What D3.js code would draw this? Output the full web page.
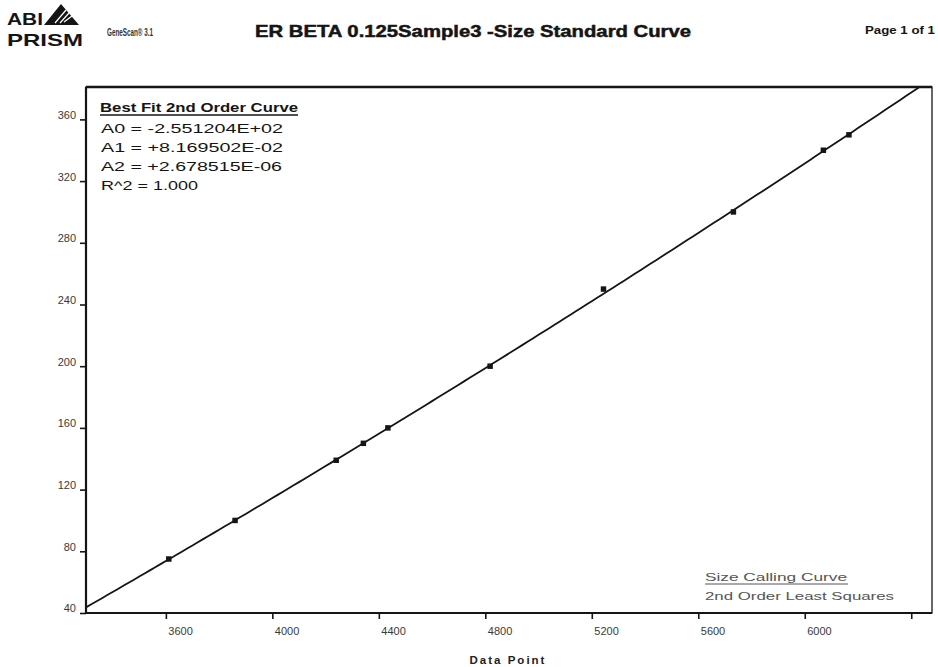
<!DOCTYPE html>
<html>
<head>
<meta charset="utf-8">
<script src="https://cdn.jsdelivr.net/npm/d3@7"></script>
<style>
  html, body { margin: 0; padding: 0; background: #fff; }
  svg { display: block; font-family: "Liberation Sans", Arial, Helvetica, sans-serif; }
</style>
</head>
<body>
<svg id="chart" width="938" height="667"></svg>
<script>
// Size standard fragments (bp) and the scan data point where each peak was found
const fragmentSizes = [75, 100, 139, 150, 160, 200, 250, 300, 340, 350];
const dataPoints   = [3611, 3860, 4240, 4342, 4434, 4818, 5244, 5732, 6070, 6166];

// Second-order least-squares fit: size = A0 + A1*x + A2*x^2
const fitCoefficients = [-2.551204E+02, 8.169502E-02, 2.678515E-06];
const fitLabels = ["A0 = -2.551204E+02", "A1 = +8.169502E-02", "A2 = +2.678515E-06", "R^2 = 1.000"];

// Axis ticks
const xTicks = [3600, 4000, 4400, 4800, 5200, 5600, 6000, 6400];
const xTickLabels = ["3600", "4000", "4400", "4800", "5200", "5600", "6000", ""];
const yTicks = [40, 80, 120, 160, 200, 240, 280, 320, 360];

const svg = d3.select("#chart");
const ink = "#151515";

const plot = { left: 86, right: 932, top: 87, bottom: 613 };

const x = d3.scaleLinear().domain([3300, 6478]).range([plot.left, plot.right]);
const y = d3.scaleLinear().domain([40, 381]).range([plot.bottom, plot.top]);

// ---- Header ----
const header = svg.append("g");
header.append("text").attr("x", 7).attr("y", 25)
  .attr("font-size", 16).attr("font-weight", "bold").attr("fill", ink)
  .attr("textLength", 36).attr("lengthAdjust", "spacingAndGlyphs").text("ABI");
header.append("path")
  .attr("d", "M44,25 L61,4 L79,25 Z").attr("fill", ink);
header.append("path")
  .attr("d", "M55,23 L66,10 M60,23 L69,13 M64,22 L72,16")
  .attr("stroke", "#fff").attr("stroke-width", 1.2).attr("fill", "none");
header.append("text").attr("x", 7).attr("y", 46)
  .attr("font-size", 17).attr("font-weight", "bold").attr("fill", ink)
  .attr("textLength", 76).attr("lengthAdjust", "spacingAndGlyphs").text("PRISM");
header.append("text").attr("x", 107).attr("y", 36)
  .attr("font-size", 10).attr("font-weight", "bold").attr("fill", "#333")
  .attr("textLength", 46).attr("lengthAdjust", "spacingAndGlyphs").text("GeneScan® 3.1");
header.append("text").attr("x", 255).attr("y", 37)
  .attr("font-size", 17).attr("font-weight", "bold").attr("fill", ink)
  .attr("stroke", ink).attr("stroke-width", 0.5)
  .attr("textLength", 436).attr("lengthAdjust", "spacingAndGlyphs")
  .text("ER BETA 0.125Sample3 -Size Standard Curve");
header.append("text").attr("x", 865).attr("y", 34)
  .attr("font-size", 10).attr("font-weight", "bold").attr("fill", ink)
  .attr("textLength", 70).attr("lengthAdjust", "spacingAndGlyphs").text("Page 1 of 1");

// ---- Plot frame ----
svg.append("rect")
  .attr("x", plot.left).attr("y", plot.top)
  .attr("width", plot.right - plot.left).attr("height", plot.bottom - plot.top)
  .attr("fill", "none").attr("stroke", ink).attr("stroke-width", 1.3);
svg.append("line")
  .attr("x1", plot.left).attr("x2", plot.right).attr("y1", plot.top).attr("y2", plot.top)
  .attr("stroke", ink).attr("stroke-width", 2.4);
svg.append("line")
  .attr("x1", plot.left).attr("x2", plot.left).attr("y1", plot.top).attr("y2", plot.bottom)
  .attr("stroke", ink).attr("stroke-width", 2.2);
svg.append("line")
  .attr("x1", plot.left).attr("x2", plot.right).attr("y1", plot.bottom).attr("y2", plot.bottom)
  .attr("stroke", ink).attr("stroke-width", 2.2);

// ---- Axes ----
const xAxis = svg.append("g").attr("transform", `translate(0,${plot.bottom})`)
  .call(d3.axisBottom(x).tickValues(xTicks).tickSize(6)
    .tickFormat((d, i) => xTickLabels[i]));
xAxis.select(".domain").remove();
xAxis.selectAll(".tick line").attr("stroke", ink).attr("stroke-width", 1.6);
xAxis.selectAll(".tick text")
  .attr("text-anchor", "start").attr("dx", 2).attr("y", 14)
  .attr("font-size", 11).attr("fill", "#3a3a3a")
  .attr("font-family", "\"Liberation Sans\", Arial, sans-serif");

const yAxis = svg.append("g").attr("transform", `translate(${plot.left},0)`)
  .call(d3.axisLeft(y).tickValues(yTicks).tickSize(6).tickFormat(d3.format("d")));
yAxis.select(".domain").remove();
yAxis.selectAll(".tick line").attr("stroke", ink).attr("stroke-width", 1.6);
yAxis.selectAll(".tick text")
  .attr("x", -10).attr("dy", "-0.1em")
  .attr("font-size", 11).attr("fill", "#3a3a3a")
  .attr("font-family", "\"Liberation Sans\", Arial, sans-serif");

svg.append("text")
  .attr("x", 508).attr("y", 664).attr("text-anchor", "middle")
  .attr("font-size", 11.5).attr("font-weight", "bold").attr("letter-spacing", 2)
  .attr("fill", "#222").text("Data Point");

// ---- Fitted curve ----
svg.append("clipPath").attr("id", "plot-clip")
  .append("rect").attr("x", plot.left).attr("y", plot.top)
  .attr("width", plot.right - plot.left).attr("height", plot.bottom - plot.top);

const fit = v => fitCoefficients[0] + fitCoefficients[1] * v + fitCoefficients[2] * v * v;
const curveXs = d3.range(x.domain()[0], x.domain()[1] + 1, 20);
svg.append("path")
  .datum(curveXs)
  .attr("clip-path", "url(#plot-clip)")
  .attr("d", d3.line().x(d => x(d)).y(d => y(fit(d))))
  .attr("fill", "none").attr("stroke", ink).attr("stroke-width", 1.8);

// ---- Size standard peaks ----
svg.append("g").selectAll("path")
  .data(fragmentSizes.map((s, i) => ({ size: s, point: dataPoints[i] })))
  .join("path")
  .attr("transform", d => `translate(${x(d.point)},${y(d.size)})`)
  .attr("d", d3.symbol(d3.symbolSquare, 30))
  .attr("fill", ink);

// ---- Fit coefficients legend ----
const info = svg.append("g");
info.append("text").attr("x", 100).attr("y", 112)
  .attr("font-size", 12.5).attr("fill", ink).attr("font-weight", "bold")
  .attr("textLength", 198).attr("lengthAdjust", "spacingAndGlyphs")
  .text("Best Fit 2nd Order Curve");
info.append("line").attr("x1", 100).attr("x2", 298).attr("y1", 115).attr("y2", 115)
  .attr("stroke", ink).attr("stroke-width", 1.3);
const infoWidths = [182, 182, 181, 97];
info.selectAll("text.coef")
  .data(fitLabels)
  .join("text").attr("class", "coef")
  .attr("x", 101).attr("y", (d, i) => 133 + i * 19)
  .attr("font-size", 13).attr("fill", ink)
  .attr("textLength", (d, i) => infoWidths[i]).attr("lengthAdjust", "spacingAndGlyphs")
  .text(d => d);

// ---- Curve type legend ----
const legend = svg.append("g");
legend.append("text").attr("x", 705).attr("y", 581)
  .attr("font-size", 11.5).attr("fill", "#555")
  .attr("textLength", 142).attr("lengthAdjust", "spacingAndGlyphs")
  .text("Size Calling Curve");
legend.append("line").attr("x1", 705).attr("x2", 848).attr("y1", 584).attr("y2", 584)
  .attr("stroke", "#555").attr("stroke-width", 1);
legend.append("text").attr("x", 705).attr("y", 600)
  .attr("font-size", 11.5).attr("fill", "#555")
  .attr("textLength", 189).attr("lengthAdjust", "spacingAndGlyphs")
  .text("2nd Order Least Squares");
</script>
</body>
</html>
